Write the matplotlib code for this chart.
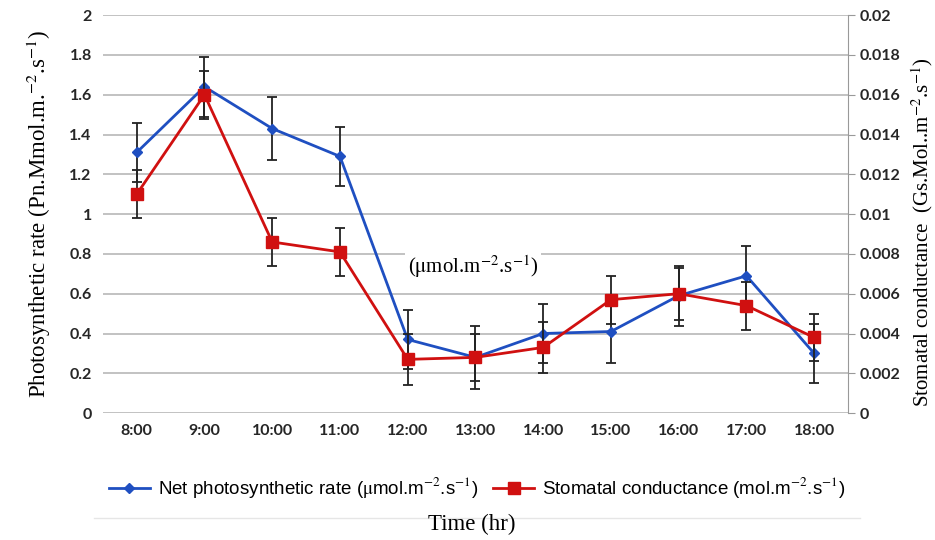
import numpy as np
import matplotlib.pyplot as plt
from matplotlib.lines import Line2D

times = ['8:00', '9:00', '10:00', '11:00', '12:00', '13:00', '14:00',
         '15:00', '16:00', '17:00', '18:00']
pn = [1.31, 1.64, 1.43, 1.29, 0.37, 0.28, 0.40, 0.41, 0.59, 0.69, 0.30]
pn_err = [0.15, 0.15, 0.16, 0.15, 0.15, 0.16, 0.15, 0.16, 0.15, 0.15, 0.15]
gs = [0.0110, 0.0160, 0.0086, 0.0081, 0.0027, 0.0028, 0.0033,
      0.0057, 0.0060, 0.0054, 0.0038]
gs_err = [0.0012, 0.0012, 0.0012, 0.0012, 0.0013, 0.0012, 0.0013,
          0.0012, 0.0013, 0.0012, 0.0012]


def main():
    plt.rcParams['mathtext.fontset'] = 'stix'
    tick_font = dict(family='Lato', weight='bold', size=11.5)
    serif = 'Liberation Serif'

    fig = plt.figure(figsize=(9.35, 5.4), dpi=100)
    ax = fig.add_axes([0.110, 0.235, 0.797, 0.737])
    ax2 = ax.twinx()
    x = np.arange(len(times))

    ax.set_ylim(0, 2)
    ax.set_yticks(np.arange(0, 2.01, 0.2))
    ax.set_yticklabels(['0', '0.2', '0.4', '0.6', '0.8', '1', '1.2', '1.4',
                        '1.6', '1.8', '2'], **tick_font)
    ax.set_xlim(-0.5, 10.5)
    ax.set_xticks(x)
    ax.set_xticklabels(times, **tick_font)
    ax.grid(axis='y', color='#bdbdbd', lw=1.3)
    ax.set_axisbelow(True)
    for s in ['top', 'left', 'bottom', 'right']:
        ax.spines[s].set_visible(False)
    ax.tick_params(axis='both', length=0, pad=8, labelcolor='#262626')

    ax2.set_ylim(0, 0.02)
    ax2.set_yticks(np.arange(0, 0.0201, 0.002))
    ax2.set_yticklabels(['0', '0.002', '0.004', '0.006', '0.008', '0.01',
                         '0.012', '0.014', '0.016', '0.018', '0.02'], **tick_font)
    for s in ['top', 'left', 'bottom']:
        ax2.spines[s].set_visible(False)
    ax2.spines['right'].set_color('#999999')
    ax2.tick_params(axis='y', length=5, color='#999999', pad=3, labelcolor='#262626')

    ax.errorbar(x, pn, yerr=pn_err, color='#1f4fc1', lw=2, marker='D',
                ms=5, ecolor='#222222', elinewidth=1.3, capsize=3.5,
                capthick=1.3, zorder=3)
    ax2.errorbar(x, gs, yerr=gs_err, color='#d01010', lw=2, marker='s',
                 ms=8, ecolor='#222222', elinewidth=1.3, capsize=3.5,
                 capthick=1.3, zorder=3)

    ax.text(4.0, 0.735, r'($\mathrm{\mu}$mol.m$^{-2}$.s$^{-1}$)',
            fontsize=15, family=serif, ha='left', va='center',
            bbox=dict(facecolor='white', edgecolor='none', pad=2), zorder=4)

    ax.set_ylabel(r'Photosynthetic rate (Pn.Mmol.m.$^{-2}$.s$^{-1}$)',
                  family=serif, fontsize=16.5, labelpad=12)
    fig.text(0.986, 0.57, r'Stomatal conductance  (Gs.Mol..m$^{-2}$.s$^{-1}$)',
             family=serif, fontsize=15, rotation=90, ha='center', va='center')

    handles = [Line2D([], [], color='#1f4fc1', lw=2, marker='D', ms=5),
               Line2D([], [], color='#d01010', lw=2, marker='s', ms=8)]
    labels = [r'Net photosynthetic rate ($\mathrm{\mu}$mol.m$^{-2}$.s$^{-1}$)',
              r'Stomatal conductance (mol.m$^{-2}$.s$^{-1}$)']
    fig.legend(handles, labels, loc='center', bbox_to_anchor=(0.51, 0.097),
               ncol=2, frameon=False, handlelength=2.2, columnspacing=0.8,
               handletextpad=0.4, prop=dict(family='Liberation Sans', size=13.5))

    fig.add_artist(Line2D([0.10, 0.92], [0.04, 0.04], color='#e6e6e6', lw=1))
    fig.text(0.505, 0.028, 'Time (hr)', family=serif, fontsize=16.5,
             ha='center', va='center')

    fig.savefig('out.png', dpi=100)


if __name__ == "__main__":
    main()
